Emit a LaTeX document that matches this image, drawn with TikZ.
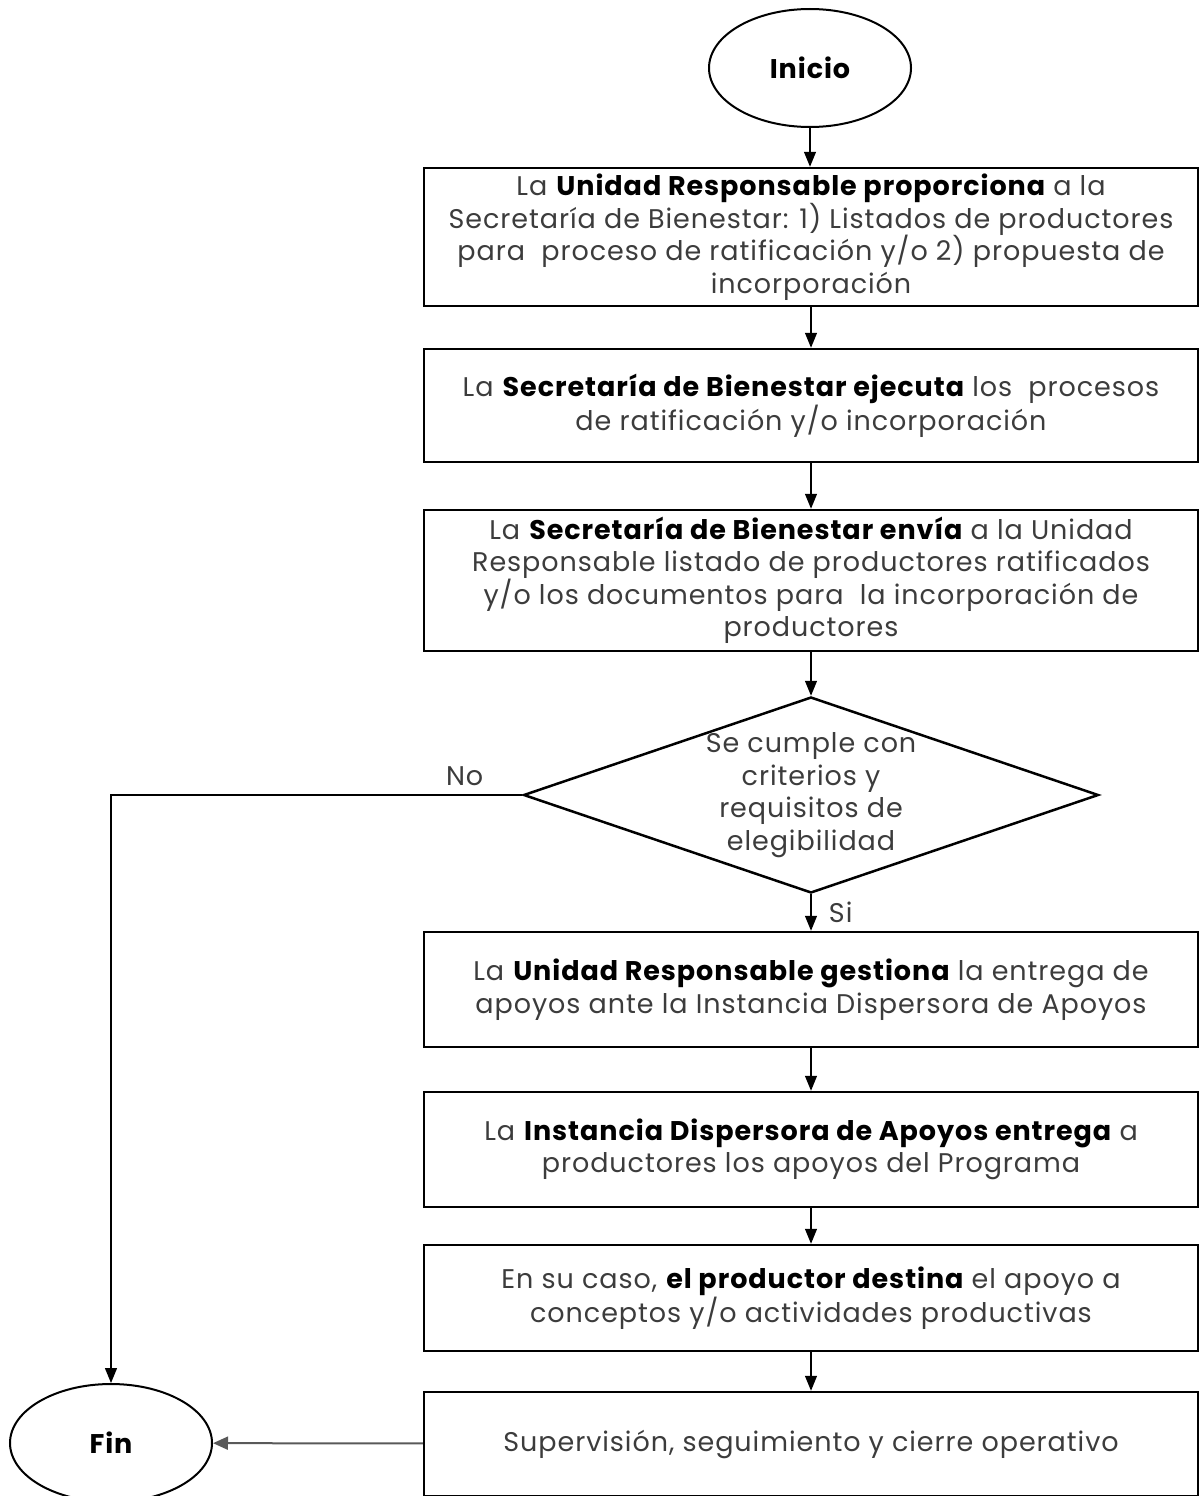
\documentclass[tikz,border=0pt]{standalone}
\usepackage{fontspec}
\setmainfont{Poppins}[LetterSpace=3.5]
\usetikzlibrary{shapes.geometric,arrows.meta}

\definecolor{txtgray}{RGB}{60,60,60}
\newcommand\bld[1]{\textbf{\color{black}#1}}
\newcommand\boxfont{\fontsize{27}{32.5}\selectfont}

\tikzset{
  procbox/.style={draw=black, line width=2.5pt, rectangle, minimum width=774pt,
    inner sep=0pt, align=center, text=txtgray},
  endcap/.style={draw=black, line width=2pt, ellipse, minimum width=202pt,
    minimum height=118pt, inner sep=0pt, font=\boxfont\bfseries, text=black},
  decide/.style={draw=black, line width=2.5pt, diamond, minimum width=575pt,
    minimum height=196pt, inner sep=0pt},
  flow/.style={line width=1.3pt, -{Triangle[length=15pt,width=12pt]}},
  finflow/.style={draw=gray!70!black, line width=2pt, -{Triangle[length=15pt,width=13pt]}},
}

\begin{document}
\begin{tikzpicture}[x=1pt,y=-1pt, every node/.append style={font=\boxfont}]

  \useasboundingbox (0,0) rectangle (1201,1496);

  %% nodes
  \node[endcap] (inicio) at (810,68) {Inicio};
  \node[procbox, minimum height=138pt] (urprop) at (811,237)
  {La \bld{Unidad Responsable proporciona} a la\\
   Secretaría de Bienestar: 1) Listados de productores\\
   para \ proceso de ratificación y/o 2) propuesta de\\
   incorporación};
  \node[procbox, minimum height=113pt] (sbejec) at (811,405.5)
  {La \bld{Secretaría de Bienestar ejecuta} los \ procesos\\
   de ratificación y/o incorporación};
  \node[procbox, minimum height=141pt] (sbenvia) at (811,580.5)
  {La \bld{Secretaría de Bienestar envía} a la Unidad\\
   Responsable listado de productores ratificados\\
   y/o los documentos para \ la incorporación de\\
   productores};
  \node[decide, label={[align=center, text=txtgray]center:Se cumple con\\
   criterios y\\requisitos de\\elegibilidad}] (elig) at (811,795) {};
  \node[procbox, minimum height=115pt] (urgest) at (811,989.5)
  {La \bld{Unidad Responsable gestiona} la entrega de\\
   apoyos ante la Instancia Dispersora de Apoyos};
  \node[procbox, minimum height=115pt] (idaentr) at (811,1149.5)
  {La \bld{Instancia Dispersora de Apoyos entrega} a\\
   productores los apoyos del Programa};
  \node[procbox, minimum height=106pt] (proddest) at (811,1298)
  {En su caso, \bld{el productor destina} el apoyo a\\
   conceptos y/o actividades productivas};
  \node[procbox, minimum height=104pt] (cierre) at (811,1444)
  {Supervisión, seguimiento y cierre operativo};
  \node[endcap] (fin) at (111,1443) {Fin};

  %% connectors
  \draw[flow] (inicio) -- (inicio.south |- urprop.north);
  \draw[flow] (urprop) -- (sbejec);
  \draw[flow] (sbejec) -- (sbenvia);
  \draw[flow] (sbenvia) -- (elig);
  \draw[flow] (elig) -- node[right=14pt, text=txtgray]{Si} (urgest);
  \draw[flow] (elig.west) -| node[pos=0.07, above=5pt, text=txtgray]{No} (fin.north);
  \draw[flow] (urgest) -- (idaentr);
  \draw[flow] (idaentr) -- (proddest);
  \draw[flow] (proddest) -- (cierre);
  \draw[finflow] (cierre) -- (fin);

\end{tikzpicture}
\end{document}
